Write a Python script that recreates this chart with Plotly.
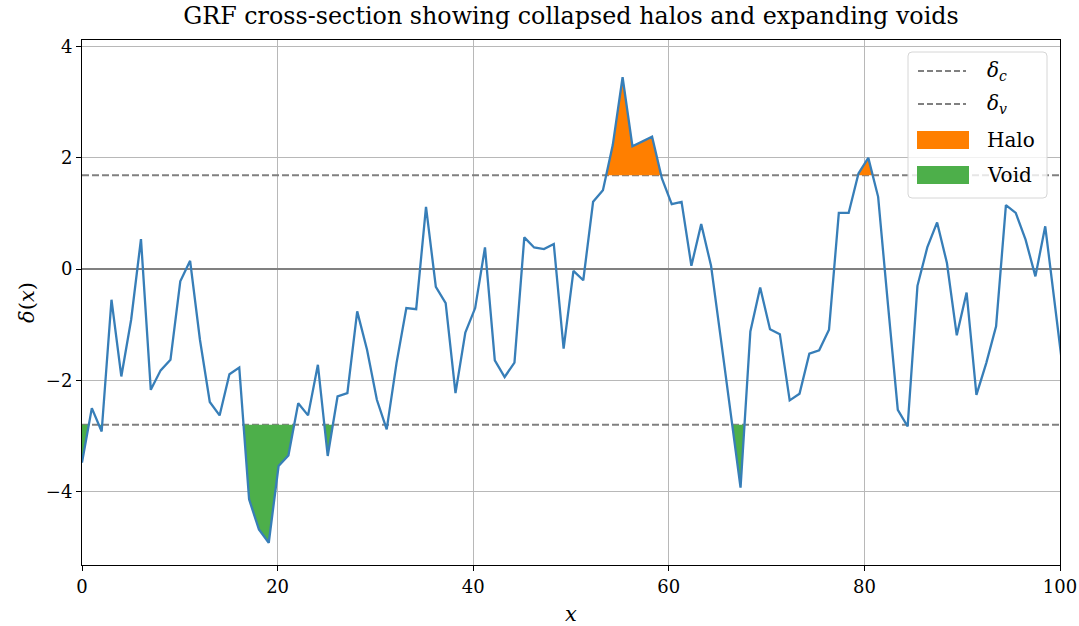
import numpy as np
import plotly.graph_objects as go

# ---- data ----
X_STEP = 1.005
delta = [
    -3.48, -2.50, -2.92, -0.55, -1.93, -0.91, 0.54, -2.17, -1.82, -1.63,
    -0.22, 0.15, -1.27, -2.39, -2.63, -1.89, -1.77, -4.14, -4.68, -4.92,
    -3.54, -3.35, -2.41, -2.63, -1.72, -3.36, -2.29, -2.23, -0.76, -1.45,
    -2.35, -2.88, -1.69, -0.70, -0.72, 1.12, -0.32, -0.61, -2.23, -1.14,
    -0.70, 0.39, -1.64, -1.94, -1.68, 0.57, 0.39, 0.36, 0.45, -1.43,
    -0.03, -0.20, 1.21, 1.42, 2.23, 3.45, 2.21, 2.29, 2.38, 1.63,
    1.17, 1.21, 0.06, 0.81, 0.06, -1.26, -2.59, -3.93, -1.12, -0.33,
    -1.08, -1.17, -2.36, -2.24, -1.52, -1.46, -1.09, 1.01, 1.01, 1.72,
    2.00, 1.30, -0.64, -2.53, -2.83, -0.30, 0.39, 0.84, 0.11, -1.19,
    -0.42, -2.26, -1.69, -1.03, 1.15, 1.01, 0.53, -0.13, 0.77, -0.71,
    -2.10,
]
DELTA_C = 1.686
DELTA_V = -2.8
X_TICKS = [0, 20, 40, 60, 80, 100]
Y_TICKS = [-4, -2, 0, 2, 4]
LEGEND_LABELS = ["<i>δ<sub>c</sub></i>", "<i>δ<sub>v</sub></i>", "Halo", "Void"]

x = np.arange(len(delta)) * X_STEP
y = np.array(delta)

BLUE = "#377eb8"
ORANGE = "#ff7f00"
GREEN = "#4daf4a"
GRAY = "#808080"
FONT = "DejaVu Serif"

W, H = 1079, 626
ML, MR, MT, MB = 82, 19, 40, 61
PW, PH = W - ML - MR, H - MT - MB


def px2x(p):
    return (p - ML) / PW


def px2y(p):
    return 1 - (p - MT) / PH


def region_polys(xv, yv, thr, above):
    mask = yv > thr if above else yv < thr
    px, py = [], []
    n = len(yv)
    i = 0
    while i < n:
        if not mask[i]:
            i += 1
            continue
        j = i
        while j + 1 < n and mask[j + 1]:
            j += 1
        if i > 0:
            f = (thr - yv[i - 1]) / (yv[i] - yv[i - 1])
            px.append(xv[i - 1] + f * (xv[i] - xv[i - 1]))
        else:
            px.append(xv[0])
        py.append(thr)
        px.extend(xv[i:j + 1].tolist())
        py.extend(yv[i:j + 1].tolist())
        if j < n - 1:
            f = (thr - yv[j]) / (yv[j + 1] - yv[j])
            px.append(xv[j] + f * (xv[j + 1] - xv[j]))
        else:
            px.append(xv[-1])
        py.append(thr)
        px.append(None)
        py.append(None)
        i = j + 1
    return px, py


fig = go.Figure()

xr = [0, 100]
DASH = "7px,3px"
fig.add_trace(go.Scatter(x=xr, y=[DELTA_C, DELTA_C], mode="lines",
                         line=dict(color=GRAY, width=2, dash=DASH),
                         name=LEGEND_LABELS[0], showlegend=False))
fig.add_trace(go.Scatter(x=xr, y=[DELTA_V, DELTA_V], mode="lines",
                         line=dict(color=GRAY, width=2, dash=DASH),
                         name=LEGEND_LABELS[1], showlegend=False))

hx, hy = region_polys(x, y, DELTA_C, True)
fig.add_trace(go.Scatter(x=hx, y=hy, mode="lines", fill="toself",
                         fillcolor=ORANGE, line=dict(width=0, color=ORANGE),
                         name="Halo", showlegend=False, hoverinfo="skip"))
vx, vy = region_polys(x, y, DELTA_V, False)
fig.add_trace(go.Scatter(x=vx, y=vy, mode="lines", fill="toself",
                         fillcolor=GREEN, line=dict(width=0, color=GREEN),
                         name="Void", showlegend=False, hoverinfo="skip"))

fig.add_trace(go.Scatter(x=x, y=y, mode="lines",
                         line=dict(color=BLUE, width=2.3),
                         showlegend=False))

# ---- legend box (drawn like matplotlib's) ----
shapes = []
bx0, bx1, by0, by1 = 908, 1047, 52, 198
r = 4
path = (f"M {px2x(bx0 + r)},{px2y(by0)} L {px2x(bx1 - r)},{px2y(by0)} "
        f"Q {px2x(bx1)},{px2y(by0)} {px2x(bx1)},{px2y(by0 + r)} "
        f"L {px2x(bx1)},{px2y(by1 - r)} Q {px2x(bx1)},{px2y(by1)} {px2x(bx1 - r)},{px2y(by1)} "
        f"L {px2x(bx0 + r)},{px2y(by1)} Q {px2x(bx0)},{px2y(by1)} {px2x(bx0)},{px2y(by1 - r)} "
        f"L {px2x(bx0)},{px2y(by0 + r)} Q {px2x(bx0)},{px2y(by0)} {px2x(bx0 + r)},{px2y(by0)} Z")
shapes.append(dict(type="path", path=path, xref="paper", yref="paper",
                   fillcolor="rgba(255,255,255,0.8)", line=dict(color="#d6d6d6", width=1),
                   layer="above"))
row_y = [71, 104, 140, 175]
for k in range(2):
    shapes.append(dict(type="line", xref="paper", yref="paper",
                       x0=px2x(918), x1=px2x(966), y0=px2y(row_y[k]), y1=px2y(row_y[k]),
                       line=dict(color=GRAY, width=2, dash="6px,3px"), layer="above"))
for k, col in zip((2, 3), (ORANGE, GREEN)):
    shapes.append(dict(type="rect", xref="paper", yref="paper",
                       x0=px2x(917), x1=px2x(969), y0=px2y(row_y[k] - 9), y1=px2y(row_y[k] + 9),
                       fillcolor=col, line=dict(width=0), layer="above"))

annotations = []
for k in range(4):
    annotations.append(dict(text=LEGEND_LABELS[k], xref="paper", yref="paper",
                            x=px2x(985), y=px2y(row_y[k]), xanchor="left", yanchor="middle",
                            showarrow=False, font=dict(family=FONT, size=20, color="black")))

axis_common = dict(
    showline=True, linecolor="black", linewidth=1, mirror=True,
    ticks="outside", ticklen=5, tickwidth=1, tickcolor="black",
    showgrid=True, gridcolor="#b8b8b8", gridwidth=1, automargin=False,
    tickfont=dict(family=FONT, size=18, color="black"),
)

fig.update_layout(
    width=W, height=H,
    margin=dict(l=ML, r=MR, t=MT, b=MB),
    paper_bgcolor="white", plot_bgcolor="white",
    font=dict(family=FONT, size=20, color="black"),
    title=dict(text="GRF cross-section showing collapsed halos and expanding voids",
               x=0.5, xref="paper", y=0.975, yanchor="middle",
               font=dict(family=FONT, size=23.8, color="black")),
    xaxis=dict(range=[0, 100], tickvals=X_TICKS, zeroline=False,
               title=dict(text="<i>x</i>", font=dict(family=FONT, size=21), standoff=10),
               **axis_common),
    yaxis=dict(range=[-5.32, 4.12], tickvals=Y_TICKS,
               zeroline=True, zerolinecolor=GRAY, zerolinewidth=2,
               title=dict(text="<i>δ</i>(<i>x</i>)", font=dict(family=FONT, size=21), standoff=5),
               **axis_common),
    shapes=shapes,
    annotations=annotations,
    showlegend=False,
)

fig.write_html("out.html")
